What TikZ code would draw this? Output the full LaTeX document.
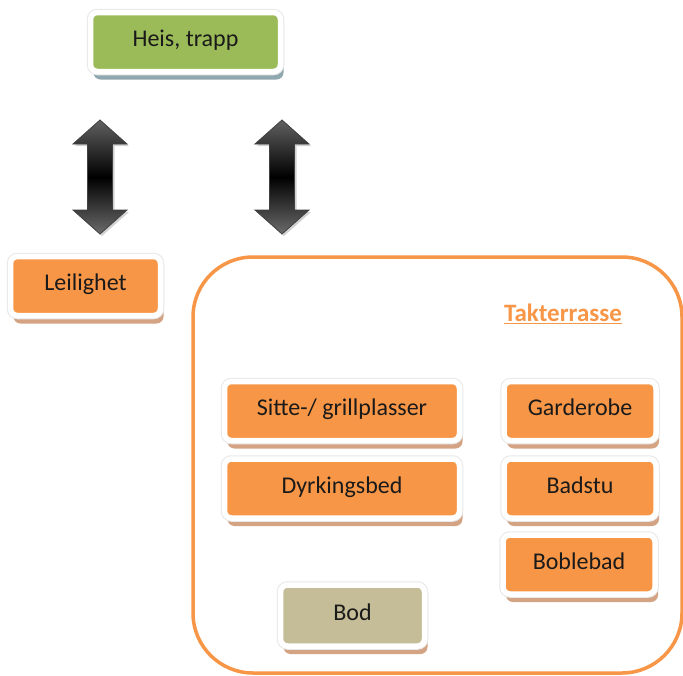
\documentclass[tikz,border=0pt]{standalone}
\usepackage{fontspec}
\setmainfont{Carlito}
\usetikzlibrary{shadows}
\definecolor{orfill}{HTML}{F79646}
\definecolor{grfill}{HTML}{9BBB59}
\definecolor{bodfill}{HTML}{C4BD97}
\definecolor{orshadow}{HTML}{D4A383}
\definecolor{grshadow}{HTML}{8FA7AF}
\definecolor{txt}{HTML}{1A1A1A}
\tikzset{
  box/.style={rounded corners=7pt, draw=white, line width=5.5pt, inner sep=0pt,
    font=\fontsize{24}{28}\selectfont, text=txt, text height=16pt, text depth=6.5pt,
    drop shadow={shadow xshift=3pt, shadow yshift=-8pt, fill=#1, opacity=1},
    preaction={draw=black!9, line width=7.5pt}},
  obox/.style={box=orshadow, fill=orfill},
  gbox/.style={box=grshadow, fill=grfill},
  bbox/.style={box=orshadow, fill=bodfill},
  dblarr/.style={draw=black!75, line width=0.8pt, top color=black!62, bottom color=black!58, middle color=black,
    drop shadow={shadow xshift=2pt, shadow yshift=-2pt, opacity=0.35}},
  frame/.style={draw=orfill, line width=3.5pt, rounded corners=60pt, inner sep=0pt}
}
\begin{document}
\begin{tikzpicture}[x=1pt,y=-1pt]
\useasboundingbox (0,0) rectangle (683,675);
\fill[white] (0,0) rectangle (683,675);

% big terrace frame
\node[frame, minimum width=489pt, minimum height=416pt] (terr) at (437.5,465) {};

% top box
\node[gbox, minimum width=190pt, minimum height=59pt] (heis) at (185.5,42) {Heis, trapp};

% left box
\node[obox, minimum width=150pt, minimum height=59pt] (leil) at (85.5,286) {Leilighet};

% terrace title
\node[font=\bfseries\fontsize{25}{29}\selectfont, text=orfill, inner sep=0pt] (takt) at (563,314) {\underline{Takterrasse}};

% inner boxes
\node[obox, minimum width=235pt, minimum height=59pt] (sitte) at (342,411) {Sitte-/ grillplasser};
\node[obox, minimum width=235pt, minimum height=59pt] (dyrk) at (342,488.5) {Dyrkingsbed};
\node[obox, minimum width=152pt, minimum height=59pt] (gard) at (580,411) {Garderobe};
\node[obox, minimum width=152pt, minimum height=59pt] (bad) at (580,488.5) {Badstu};
\node[obox, minimum width=152pt, minimum height=59pt] (bobl) at (579,564.5) {Boblebad};
\node[bbox, minimum width=144pt, minimum height=61pt] (bod) at (352.5,615.5) {Bod};

% double arrows
\draw[dblarr, shift={(100,0)}] (0,120) -- (27,144) -- (12.5,144) -- (12.5,210) -- (27,210) -- (0,234)
  -- (-27,210) -- (-12.5,210) -- (-12.5,144) -- (-27,144) -- cycle;
\draw[dblarr, shift={(282,0)}] (0,120) -- (27,144) -- (12.5,144) -- (12.5,210) -- (27,210) -- (0,234)
  -- (-27,210) -- (-12.5,210) -- (-12.5,144) -- (-27,144) -- cycle;
\end{tikzpicture}
\end{document}
